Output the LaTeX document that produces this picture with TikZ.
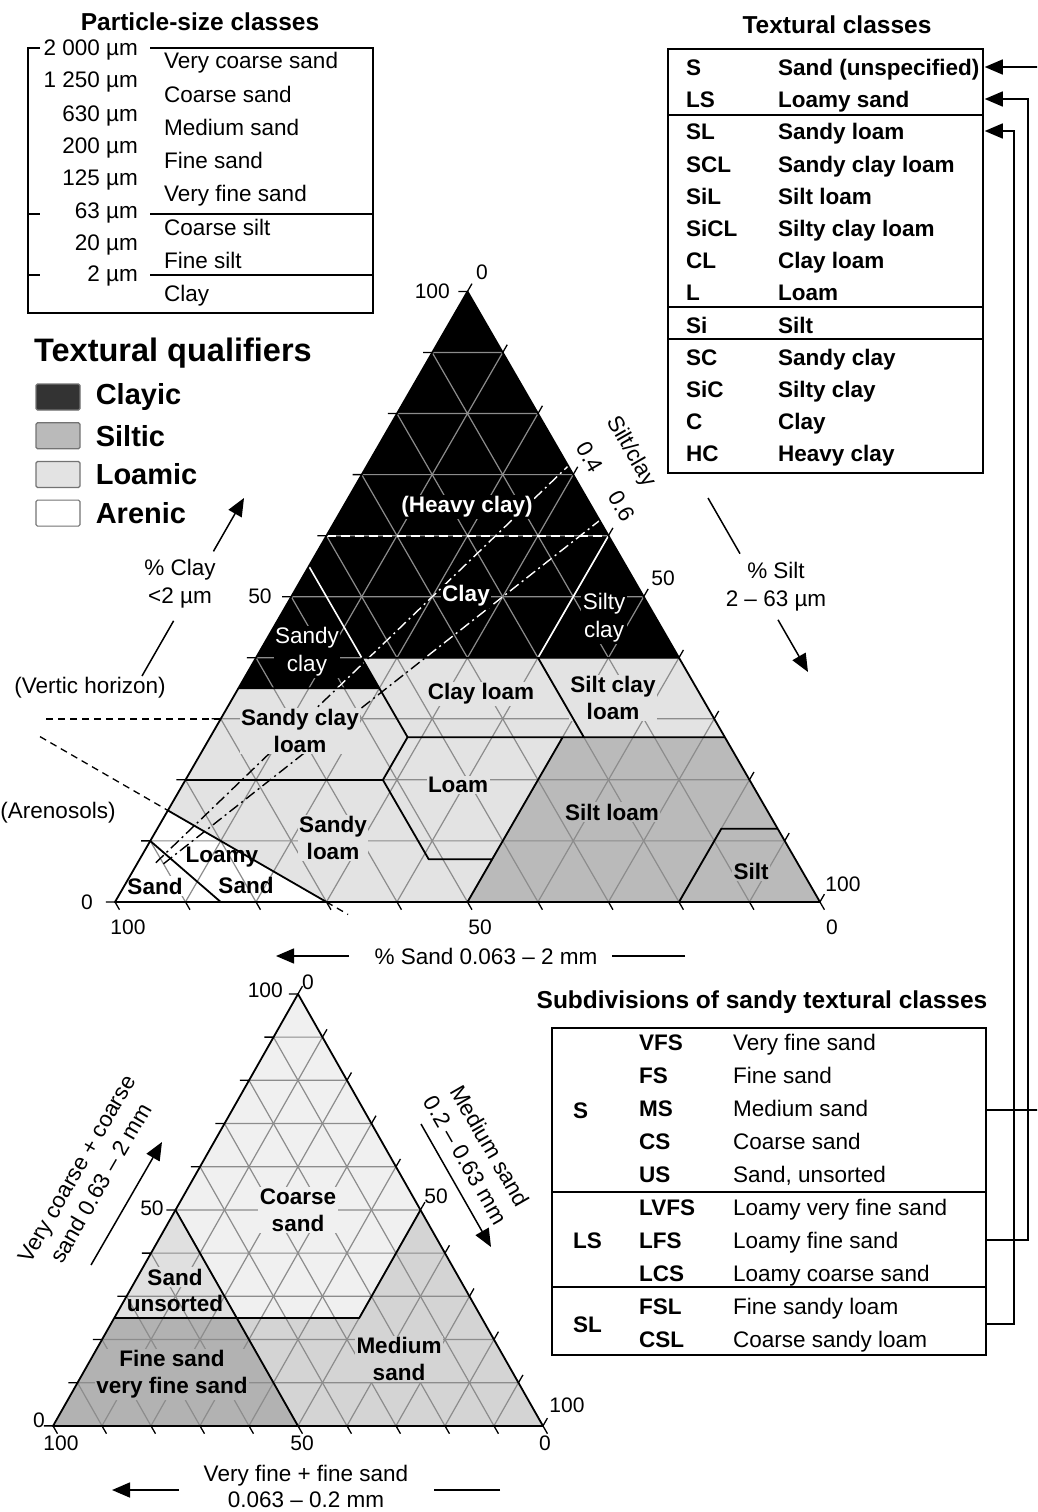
\documentclass[tikz,border=0pt]{standalone}
\usepackage{fontspec}
\setmainfont{Liberation Sans}
\usetikzlibrary{arrows.meta,calc,positioning}
\definecolor{clayic}{gray}{0}
\definecolor{siltic}{gray}{0.73}
\definecolor{loamic}{gray}{0.89}
\definecolor{arenic}{gray}{1}
\definecolor{gridgray}{gray}{0.55}
\definecolor{csand}{gray}{0.94}
\definecolor{usand}{gray}{0.88}
\definecolor{msand}{gray}{0.83}
\definecolor{fsand}{gray}{0.70}
\tikzset{
    %Define standard arrow tip
    >={Triangle[length=18pt,width=15pt]},
    %Define styles for texts
    rowtxt/.style={
           font=\fontsize{22.5}{27}\selectfont,
           inner sep=1pt,
           text height=16pt,
           text depth=0pt},
    rowbold/.style={
           rowtxt,
           font=\fontsize{22.5}{27}\selectfont\bfseries},
    tabtitle/.style={
           font=\fontsize{24.5}{29}\selectfont\bfseries,
           inner sep=1pt},
    zonelab/.style={
           font=\fontsize{22.5}{27}\selectfont\bfseries,
           align=center,
           inner sep=1.5pt},
    ticklab/.style={
           font=\fontsize{21}{25}\selectfont,
           inner sep=1pt},
    axislab/.style={
           font=\fontsize{22.5}{28}\selectfont,
           align=center,
           inner sep=1pt},
    %Define style for legend boxes
    qbox/.style={
           draw=black!55, line width=1.2pt,
           rounded corners=1.5pt,
           minimum width=44pt,
           minimum height=26pt,
           inner sep=0pt},
    qlab/.style={
           font=\fontsize{29}{33}\selectfont\bfseries,
           inner sep=1pt},
    % Define line styles
    tabline/.style={line width=1.5pt},
    gridln/.style={draw=gridgray, line width=1.2pt},
    bound/.style={line width=1.8pt, line join=round},
    wbound/.style={draw=white, line width=1.6pt},
    tickln/.style={line width=1.3pt},
    outdash/.style={line width=1.3pt, dash pattern=on 7pt off 5pt},
    ddash/.style={line width=1.4pt, dash pattern=on 11pt off 4pt on 2pt off 4pt},
    axln/.style={line width=1.5pt},
    conn/.style={->, line width=1.5pt, shorten >=1pt}
}

\begin{document}
\begin{tikzpicture}[x=1pt,y=-1pt]
\useasboundingbox (0,0) rectangle (1037,1512);
\clip (0,0) rectangle (1037,1512);

% particle-size classes
\node[tabtitle] (pstitle) at (200,22) {Particle-size classes};
\draw[tabline] (40,48) -- (28,48) -- (28,313) -- (373,313) -- (373,48) -- (150,48);
\draw[tabline] (28,214) -- (40,214) (150,214) -- (373,214);
\draw[tabline] (28,275) -- (40,275) (150,275) -- (373,275);
\foreach \sz/\y [count=\k] in {2 000/48, 1 250/80, 630/113, 200/145, 125/177, 63/210, 20/242, 2/273}
  \node[rowtxt, anchor=east] (psz\k) at (139,\y) {\sz~µm};
\foreach \nm/\y [count=\k] in {Very coarse sand/61, Coarse sand/94, Medium sand/127, Fine sand/160, Very fine sand/193, Coarse silt/227, Fine silt/260, Clay/293}
  \node[rowtxt, anchor=west] (psn\k) at (163,\y) {\nm};

% textural classes
\node[tabtitle] (tctitle) at (837,25) {Textural classes};
\node[draw, tabline, minimum width=315pt, minimum height=424pt, inner sep=0pt] (tcbox) at (825.5,261) {};
\draw[tabline] (668,115) -- (983,115) (668,307) -- (983,307) (668,339) -- (983,339);
\foreach \ab/\nm/\y in {S/Sand (unspecified)/67, LS/Loamy sand/99, SL/Sandy loam/131, SCL/Sandy clay loam/164, SiL/Silt loam/196, SiCL/Silty clay loam/228, CL/Clay loam/260, L/Loam/292, Si/Silt/325, SC/Sandy clay/357, SiC/Silty clay/389, C/Clay/421, HC/Heavy clay/453} {
  \node[rowbold, anchor=west] (ab-\ab) at (685,\y) {\ab};
  \node[rowbold, anchor=west] (tc-\ab) at (777,\y) {\nm};
}

% subdivisions of sandy classes
\node[tabtitle] (sdtitle) at (762,1002) {Subdivisions of sandy textural classes};
\node[draw, tabline, minimum width=434pt, minimum height=327pt, inner sep=0pt] (sdbox) at (769,1191.5) {};
\draw[tabline] (552,1192) -- (986,1192) (552,1287) -- (986,1287);
\node[rowbold, anchor=west] (sd-S) at (572,1110) {S};
\node[rowbold, anchor=west] (sd-LS) at (572,1240) {LS};
\node[rowbold, anchor=west] (sd-SL) at (572,1324) {SL};
\foreach \ab/\nm/\y in {VFS/Very fine sand/1042, FS/Fine sand/1075, MS/Medium sand/1108, CS/Coarse sand/1141, US/{Sand, unsorted}/1174, LVFS/Loamy very fine sand/1207, LFS/Loamy fine sand/1240, LCS/Loamy coarse sand/1273, FSL/Fine sandy loam/1306, CSL/Coarse sandy loam/1339} {
  \node[rowbold, anchor=west] (sb-\ab) at (638,\y) {\ab};
  \node[rowtxt, anchor=west] (sn-\ab) at (732,\y) {\nm};
}

% links between the tables
\draw[conn] (sdbox.east |- sd-S) -- ++(80,0) |- (tcbox.east |- tc-S);
\draw[conn] (sdbox.east |- sd-LS) -- ++(41,0) |- (tcbox.east |- tc-LS);
\draw[conn] (sdbox.east |- sd-SL) -- ++(27,0) |- (tcbox.east |- tc-SL);

% textural qualifiers
\node[anchor=west, font=\fontsize{32.5}{38}\selectfont\bfseries, inner sep=1pt] (qtitle) at (33,353) {Textural qualifiers};
\node[qbox, fill=black!80] (q1) at (58,397) {};
\node[qbox, fill=siltic, below=11.5pt of q1] (q2) {};
\node[qbox, fill=loamic, below=11.5pt of q2] (q3) {};
\node[qbox, fill=white, below=11.5pt of q3] (q4) {};
\node[qlab, right=14pt of q1] (q1l) {Clayic};
\node[qlab, right=14pt of q2] (q2l) {Siltic};
\node[qlab, right=14pt of q3] (q3l) {Loamic};
\node[qlab, right=14pt of q4] (q4l) {Arenic};

% main texture triangle (sand, silt, clay)
\coordinate (sA) at (115,902);
\coordinate (sB) at (820,902);
\coordinate (sC) at (467.5,291.5);
\coordinate (c35L) at (barycentric cs:sA=0.65,sC=0.35);
\coordinate (c35r) at (barycentric cs:sA=0.45,sB=0.20,sC=0.35);
\coordinate (c40l) at (barycentric cs:sA=0.45,sB=0.15,sC=0.40);
\coordinate (c55l) at (barycentric cs:sA=0.45,sC=0.55);
\coordinate (c40r) at (barycentric cs:sA=0.20,sB=0.40,sC=0.40);
\coordinate (c40R) at (barycentric cs:sB=0.60,sC=0.40);
\coordinate (c60L) at (barycentric cs:sA=0.40,sC=0.60);
\coordinate (c60R) at (barycentric cs:sB=0.40,sC=0.60);
\coordinate (c27a) at (barycentric cs:sA=0.45,sB=0.28,sC=0.27);
\coordinate (c27b) at (barycentric cs:sA=0.20,sB=0.53,sC=0.27);
\coordinate (c27c) at (barycentric cs:sA=0.23,sB=0.50,sC=0.27);
\coordinate (c27R) at (barycentric cs:sB=0.73,sC=0.27);
\coordinate (c20L) at (barycentric cs:sA=0.80,sC=0.20);
\coordinate (c20r) at (barycentric cs:sA=0.52,sB=0.28,sC=0.20);
\coordinate (c7l) at (barycentric cs:sA=0.52,sB=0.41,sC=0.07);
\coordinate (c7r) at (barycentric cs:sA=0.43,sB=0.50,sC=0.07);
\coordinate (b50) at (barycentric cs:sA=0.50,sB=0.50);
\coordinate (c12l) at (barycentric cs:sA=0.08,sB=0.80,sC=0.12);
\coordinate (c12R) at (barycentric cs:sB=0.88,sC=0.12);
\coordinate (b80) at (barycentric cs:sA=0.20,sB=0.80);
\coordinate (c15L) at (barycentric cs:sA=0.85,sC=0.15);
\coordinate (b70) at (barycentric cs:sA=0.70,sB=0.30);
\coordinate (c10L) at (barycentric cs:sA=0.90,sC=0.10);
\coordinate (b85) at (barycentric cs:sA=0.85,sB=0.15);
\coordinate (c30L) at (barycentric cs:sA=0.70,sC=0.30);
\coordinate (r04) at (barycentric cs:sB=2,sC=5);
\coordinate (r06) at (barycentric cs:sB=3,sC=5);

\fill[loamic] (sA) -- (sB) -- (sC) -- cycle;
\fill[clayic] (c35L) -- (sC) -- (c40R) -- (c40l) -- (c35r) -- cycle;
\fill[siltic] (b50) -- (sB) -- (c27R) -- (c27c) -- cycle;
\fill[arenic] (sA) -- (c15L) -- (b70) -- cycle;
\foreach \i in {1,...,9} {
  \pgfmathtruncatemacro\j{10-\i}
  \draw[gridln] (barycentric cs:sA=\j,sC=\i) -- (barycentric cs:sB=\j,sC=\i)
                (barycentric cs:sA=\i,sB=\j) -- (barycentric cs:sA=\i,sC=\j)
                (barycentric cs:sB=\i,sA=\j) -- (barycentric cs:sB=\i,sC=\j);
}

% silt/clay ratio lines
\draw[ddash] ($(sA)!0.09!(r04)$) -- (r04);
\draw[ddash] ($(sA)!0.1!(r06)$) -- (r06);
\begin{scope}
  \clip (c35L) -- (sC) -- (c40R) -- (c40l) -- (c35r) -- cycle;
  \draw[ddash, white] ($(sA)!0.09!(r04)$) -- (r04);
  \draw[ddash, white] ($(sA)!0.1!(r06)$) -- (r06);
\end{scope}
\draw[wbound] (c55l) -- (c40l) (c40r) -- (c60R);
\draw[wbound, dash pattern=on 9pt off 5pt] (c60L) -- (c60R);
\draw[outdash] (c30L) -- ++(-179,0);
\draw[outdash] ($(c15L)!-0.806!(b70)$) -- (c15L) (b70) -- ($(c15L)!1.136!(b70)$);

\node[zonelab, text=white, fill=black] (hc) at (467,507) {(Heavy clay)};
\node[zonelab, text=white, fill=black] (cl) at (466,596) {Clay};
\node[zonelab, text=white, fill=black, font=\fontsize{22.5}{28}\selectfont] (sc) at (307,652) {Sandy\\clay};
\node[zonelab, text=white, fill=black, font=\fontsize{22.5}{28}\selectfont] (sic) at (604,618) {Silty\\clay};
\node[zonelab, fill=loamic] (cll) at (481,694) {Clay loam};
\node[zonelab, fill=loamic] (sicl) at (613,698) {Silt clay\\loam};
\node[zonelab, fill=loamic] (scl) at (300,731) {Sandy clay\\loam};
\node[zonelab, fill=loamic] (lo) at (458,785) {Loam};
\node[zonelab, fill=loamic] (sl) at (333,838) {Sandy\\loam};
\node[zonelab, fill=siltic] (sil) at (612,812) {Silt loam};
\node[zonelab, fill=siltic] (si) at (751,871) {Silt};
\node[zonelab] (ls1) at (222,857) {Loamy};
\node[zonelab] (ls2) at (246,885) {Sand};
\node[zonelab, fill=white] (sa) at (155,886) {Sand};

\draw[bound] (c35L) -- (c35r) (c40l) -- (c40R) (c40l) -- (c27a) -- (c27R)
  (c40r) -- (c27b) (c20L) -- (c20r) -- (c27a) (c20r) -- (c7l) -- (c7r)
  (b50) -- (c27c) (b80) -- (c12l) -- (c12R) (c15L) -- (b70) (c10L) -- (b85);
\draw[bound] (sA) -- (sB) -- (sC) -- cycle;
\foreach \i in {0,...,10} {
  \pgfmathtruncatemacro\j{10-\i}
  \draw[tickln] (barycentric cs:sA=\j,sC=\i) -- ++(-9,0)
                (barycentric cs:sB=\i,sC=\j) -- ++(4.5,-7.8)
                (barycentric cs:sA=\i,sB=\j) -- ++(4.5,7.8);
}
\node[ticklab, anchor=east] (t100) at (451,291) {100};
\node[ticklab] (t0) at (482,272) {0};
\node[ticklab] (t50l) at (260,596) {50};
\node[ticklab] (t0l) at (87,902) {0};
\node[ticklab] (t100b) at (128,927) {100};
\node[ticklab] (t50b) at (480,927) {50};
\node[ticklab] (t0b) at (832,927) {0};
\node[ticklab] (t100r) at (843,884) {100};
\node[ticklab] (t50r) at (663,578) {50};
\node[axislab, rotate=-60] (screl) at (631,452) {Silt/clay};
\node[axislab, rotate=-60] (sc4) at (590,457) {0.4};
\node[axislab, rotate=-60] (sc6) at (622,506) {0.6};
\node[axislab] (vert) at (90,688) {(Vertic horizon)};
\node[axislab] (aren) at (58,813) {(Arenosols)};

% main axes
\node[axislab] (clayax) at (180,584) {\% Clay\\<2 µm};
\node[axislab] (siltax) at (776,587) {\% Silt\\2 – 63 µm};
\node[axislab] (sandax) at (486,956) {\% Sand 0.063 – 2 mm};
\coordinate (ca0) at (142,676);
\coordinate (ca1) at (244,498);
\coordinate (sa0) at (708,498);
\coordinate (sa1) at (808,672);
\coordinate (na0) at (685,956);
\coordinate (na1) at (276,956);
\draw[axln] (ca0) -- ($(ca0)!0.31!(ca1)$);
\draw[axln, ->] ($(ca0)!0.7!(ca1)$) -- (ca1);
\draw[axln] (sa0) -- ($(sa0)!0.32!(sa1)$);
\draw[axln, ->] ($(sa0)!0.7!(sa1)$) -- (sa1);
\draw[axln] (na0) -- ($(na0)!0.179!(na1)$);
\draw[axln, ->] ($(na0)!0.821!(na1)$) -- (na1);

% sand subdivision triangle (fine, medium, coarse)
\coordinate (fA) at (53,1426);
\coordinate (fB) at (543,1426);
\coordinate (fC) at (298,994);
\coordinate (f50L) at (barycentric cs:fA=1,fC=1);
\coordinate (f50c) at (barycentric cs:fA=2,fB=1,fC=1);
\coordinate (k25L) at (barycentric cs:fA=3,fC=1);
\coordinate (m50c) at (barycentric cs:fA=1,fB=2,fC=1);
\coordinate (m50R) at (barycentric cs:fB=1,fC=1);
\coordinate (fb50) at (barycentric cs:fA=1,fB=1);
\fill[msand] (fA) -- (fB) -- (fC) -- cycle;
\fill[csand] (f50L) -- (fC) -- (m50R) -- (m50c) -- (f50c) -- cycle;
\fill[usand] (f50L) -- (f50c) -- (k25L) -- cycle;
\fill[fsand] (k25L) -- (f50c) -- (fb50) -- (fA) -- cycle;
\foreach \i in {1,...,9} {
  \pgfmathtruncatemacro\j{10-\i}
  \draw[gridln] (barycentric cs:fA=\j,fC=\i) -- (barycentric cs:fB=\j,fC=\i)
                (barycentric cs:fA=\i,fB=\j) -- (barycentric cs:fA=\i,fC=\j)
                (barycentric cs:fB=\i,fA=\j) -- (barycentric cs:fB=\i,fC=\j);
}
\node[zonelab, fill=csand] (bcs) at (298,1210) {Coarse\\sand};
\node[zonelab, fill=usand] (bus1) at (175,1277) {Sand};
\node[zonelab] (bus2) at (175,1303) {unsorted};
\node[zonelab, fill=fsand] (bfs) at (172,1374) {Fine sand\\very fine sand};
\node[zonelab, fill=msand] (bms) at (399,1359) {Medium\\sand};
\draw[bound] (f50L) -- (fb50) (k25L) -- (m50c) -- (m50R);
\draw[bound] (fA) -- (fB) -- (fC) -- cycle;
\foreach \i in {0,...,10} {
  \pgfmathtruncatemacro\j{10-\i}
  \draw[tickln] (barycentric cs:fA=\j,fC=\i) -- ++(-9,0)
                (barycentric cs:fB=\i,fC=\j) -- ++(4.5,-7.8)
                (barycentric cs:fA=\i,fB=\j) -- ++(4.5,7.8);
}
\node[ticklab, anchor=east] (u100) at (284,990) {100};
\node[ticklab] (u0) at (308,982) {0};
\node[ticklab] (u50l) at (152,1208) {50};
\node[ticklab] (u50r) at (436,1196) {50};
\node[ticklab] (u0l) at (39,1420) {0};
\node[ticklab] (u100b) at (61,1443) {100};
\node[ticklab] (u50b) at (302,1443) {50};
\node[ticklab] (u0b) at (545,1443) {0};
\node[ticklab] (u100r) at (567,1405) {100};

% sand axes
\node[axislab, rotate=60] (vcax) at (89,1176) {Very coarse + coarse\\sand 0.63 – 2 mm};
\node[axislab, rotate=-60] (msax) at (478,1153) {Medium sand\\0.2 – 0.63 mm};
\node[axislab, font=\fontsize{22.5}{26}\selectfont] (fsax) at (306,1486) {Very fine + fine sand\\0.063 – 0.2 mm};
\coordinate (la0) at (91,1265);
\coordinate (la1) at (162,1142);
\coordinate (ra0) at (421,1124);
\coordinate (ra1) at (491,1247);
\coordinate (ba0) at (500,1490);
\coordinate (ba1) at (112,1490);
\draw[axln, ->] (la0) -- (la1);
\draw[axln, ->] (ra0) -- (ra1);
\draw[axln] (ba0) -- ($(ba0)!0.17!(ba1)$);
\draw[axln, ->] ($(ba0)!0.827!(ba1)$) -- (ba1);
\end{tikzpicture}
\end{document}
